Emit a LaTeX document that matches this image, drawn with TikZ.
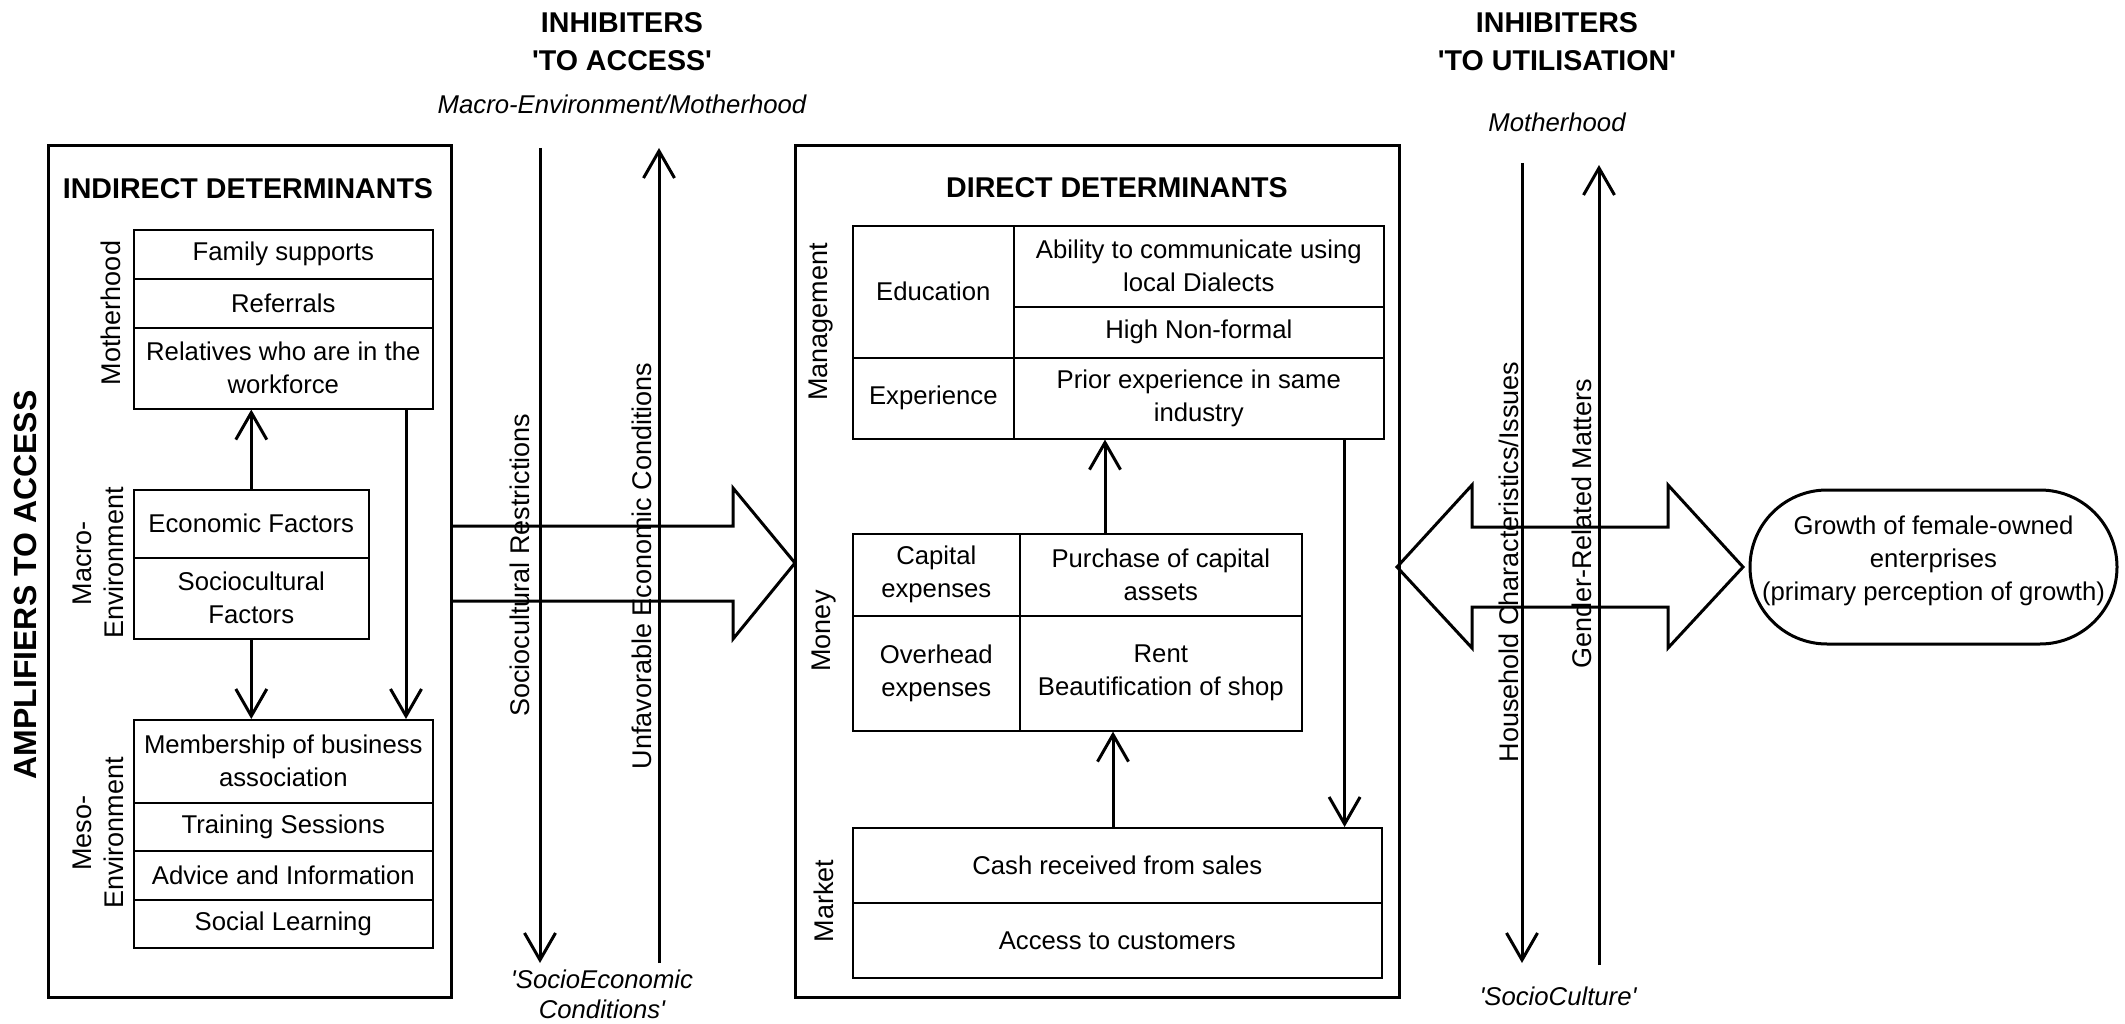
\documentclass[tikz,border=0pt]{standalone}
\usepackage{fontspec}
\setmainfont{Liberation Sans}
\usetikzlibrary{arrows.meta,calc}
\newcommand\ftbody{\fontsize{25.7}{33}\selectfont}
\newcommand\ftlab{\fontsize{27}{32}\selectfont}
\newcommand\fttitle{\fontsize{28.6}{38}\selectfont\bfseries}
\newcommand\ftamp{\fontsize{32}{40}\selectfont\bfseries}
\newcommand\ftit{\fontsize{25.7}{30}\selectfont\itshape}
\newcommand\sq{\textquotesingle}
\begin{document}
\begin{tikzpicture}[x=1pt,y=-1pt,
  >={Straight Barb[length=27pt,width=31pt]},
  bigbox/.style={draw, line width=3.2pt, anchor=north west, inner sep=0pt},
  cell/.style={draw, line width=1.6pt, anchor=north west, inner sep=0pt, align=center, font=\ftbody},
  conn/.style={line width=3pt, ->},
  blockarrow/.style={line width=3pt, line join=miter},
  vline/.style={line width=3pt},
  lab/.style={rotate=90, font=\ftlab, align=center},
  ttl/.style={font=\fttitle, align=center},
  ital/.style={font=\ftit, align=center}]
\useasboundingbox[fill=white] (0,0) rectangle (2125,1024);

% ---------- big boxes ----------
\node[bigbox, minimum width=403, minimum height=852] (ind) at (47,144) {};
\node[bigbox, minimum width=604, minimum height=852] (dir) at (794,144) {};
\node[ttl] (indt) at (248,189) {INDIRECT DETERMINANTS};
\node[ttl] (dirt) at (1117,188) {DIRECT DETERMINANTS};
\node[rotate=90, font=\ftamp] (amp) at (25,585) {AMPLIFIERS TO ACCESS};

% ---------- block arrows (drawn first, lines cross them) ----------
\draw[blockarrow] (450,526) -- (733,526) -- (733,488) -- (795,563) -- (733,639) -- (733,601) -- (450,601);
\draw[blockarrow] (1472,527) -- (1668,527) -- (1668,485) -- (1743,567) -- (1668,648) -- (1668,607)
  -- (1472,607) -- (1472,648) -- (1397,567) -- (1472,485) -- cycle;

% ---------- indirect: motherhood ----------
\node[cell, minimum width=299, minimum height=49] (ms1) at (133,229) {Family supports};
\node[cell, minimum width=299, minimum height=49] (ms2) at (133,278) {Referrals};
\node[cell, minimum width=299, minimum height=81] (ms3) at (133,327) {Relatives who are in the\\workforce};
\node[lab] (lmoth) at (111,313) {Motherhood};

% macro
\node[cell, minimum width=235, minimum height=68] (mc1) at (133,489) {Economic Factors};
\node[cell, minimum width=235, minimum height=81] (mc2) at (133,557) {Sociocultural\\Factors};
\node[lab] (lmacro) at (98,563) {Macro-\\Environment};

% meso
\node[cell, minimum width=299, minimum height=83] (me1) at (133,719) {Membership of business\\association};
\node[cell, minimum width=299, minimum height=48] (me2) at (133,802) {Training Sessions};
\node[cell, minimum width=299, minimum height=49] (me3) at (133,850) {Advice and Information};
\node[cell, minimum width=299, minimum height=48] (me4) at (133,899) {Social Learning};
\node[lab] (lmeso) at (98,833) {Meso-\\Environment};

\draw[conn] (mc1.north) -- (mc1.north |- ms3.south);
\draw[conn] (mc2.south) -- (mc2.south |- me1.north);
\coordinate (r1) at ($(ms3.south west)+(273,0)$);
\draw[conn] (r1) -- (r1 |- me1.north);

% ---------- direct: management ----------
\node[cell, minimum width=161, minimum height=132] (edu) at (852,225) {Education};
\node[cell, minimum width=161, minimum height=81] (exp) at (852,357) {Experience};
\node[cell, minimum width=370, minimum height=81] (abil) at (1013,225) {Ability to communicate using\\local Dialects};
\node[cell, minimum width=370, minimum height=51] (high) at (1013,306) {High Non-formal};
\node[cell, minimum width=370, minimum height=81] (prior) at (1013,357) {Prior experience in same\\industry};
\node[lab] (lman) at (821,322) {Management};

% money
\node[cell, minimum width=167, minimum height=82] (cap) at (852,533) {Capital\\expenses};
\node[cell, minimum width=282, minimum height=82] (purch) at (1019,533) {Purchase of capital\\assets};
\node[cell, minimum width=167, minimum height=115] (over) at (852,615) {Overhead\\expenses};
\node[cell, minimum width=282, minimum height=115] (rent) at (1019,615) {Rent\\Beautification of shop};
\node[lab] (lmon) at (824,631) {Money};

% market
\node[cell, minimum width=529, minimum height=75] (cash) at (852,827) {Cash received from sales};
\node[cell, minimum width=529, minimum height=75] (acc) at (852,902) {Access to customers};
\node[lab] (lmar) at (824,901) {Market};

\coordinate (d1) at ($(cash.north west)+(261,0)$);
\draw[conn] (d1) -- (d1 |- rent.south);
\coordinate (d2) at ($(purch.north west)+(86,0)$);
\draw[conn] (d2) -- (d2 |- prior.south);
\coordinate (d3) at ($(prior.south east)+(-40,0)$);
\draw[conn] (d3) -- (d3 |- cash.north);

% ---------- inhibiters to access ----------
\node[ttl] (inh1) at (622,42) {INHIBITERS\\\sq TO ACCESS\sq};
\node[ital] (mem) at (622,104) {Macro-Environment/Motherhood};
\coordinate (s1t) at (540,148);
\coordinate (s1b) at (540,963);
\coordinate (u1b) at (659,963);
\coordinate (u1t) at (659,148);
\draw[vline,->] (s1t) -- (s1b);
\draw[vline,->] (u1b) -- (u1t);
\node[lab] (lsr) at (520,565) {Sociocultural Restrictions};
\node[lab] (luec) at (642,566) {Unfavorable Economic Conditions};
\node[ital] (sec) at (602,994) {\sq SocioEconomic\\Conditions\sq};

% ---------- inhibiters to utilisation ----------
\node[ttl] (inh2) at (1557,42) {INHIBITERS\\\sq TO UTILISATION\sq};
\node[ital] (moth2) at (1557,122) {Motherhood};
\coordinate (h1t) at (1522,163);
\coordinate (h1b) at (1522,963);
\coordinate (g1b) at (1599,965);
\coordinate (g1t) at (1599,165);
\draw[vline,->] (h1t) -- (h1b);
\draw[vline,->] (g1b) -- (g1t);
\node[lab] (lhh) at (1509,562) {Household Characteristics/Issues};
\node[lab] (lgr) at (1582,524) {Gender-Related Matters};
\node[ital] (scul) at (1558,996) {\sq SocioCulture\sq};

% ---------- growth ----------
\node[draw, line width=3pt, rounded corners=77pt, minimum width=367, minimum height=154,
  inner sep=0pt] (growth) at (1933.5,567) {};
\node[align=center, font=\ftbody, inner sep=0pt] (growtht) at (1933.5,561)
  {Growth of female-owned\\enterprises\\(primary perception of growth)};
\end{tikzpicture}
\end{document}
